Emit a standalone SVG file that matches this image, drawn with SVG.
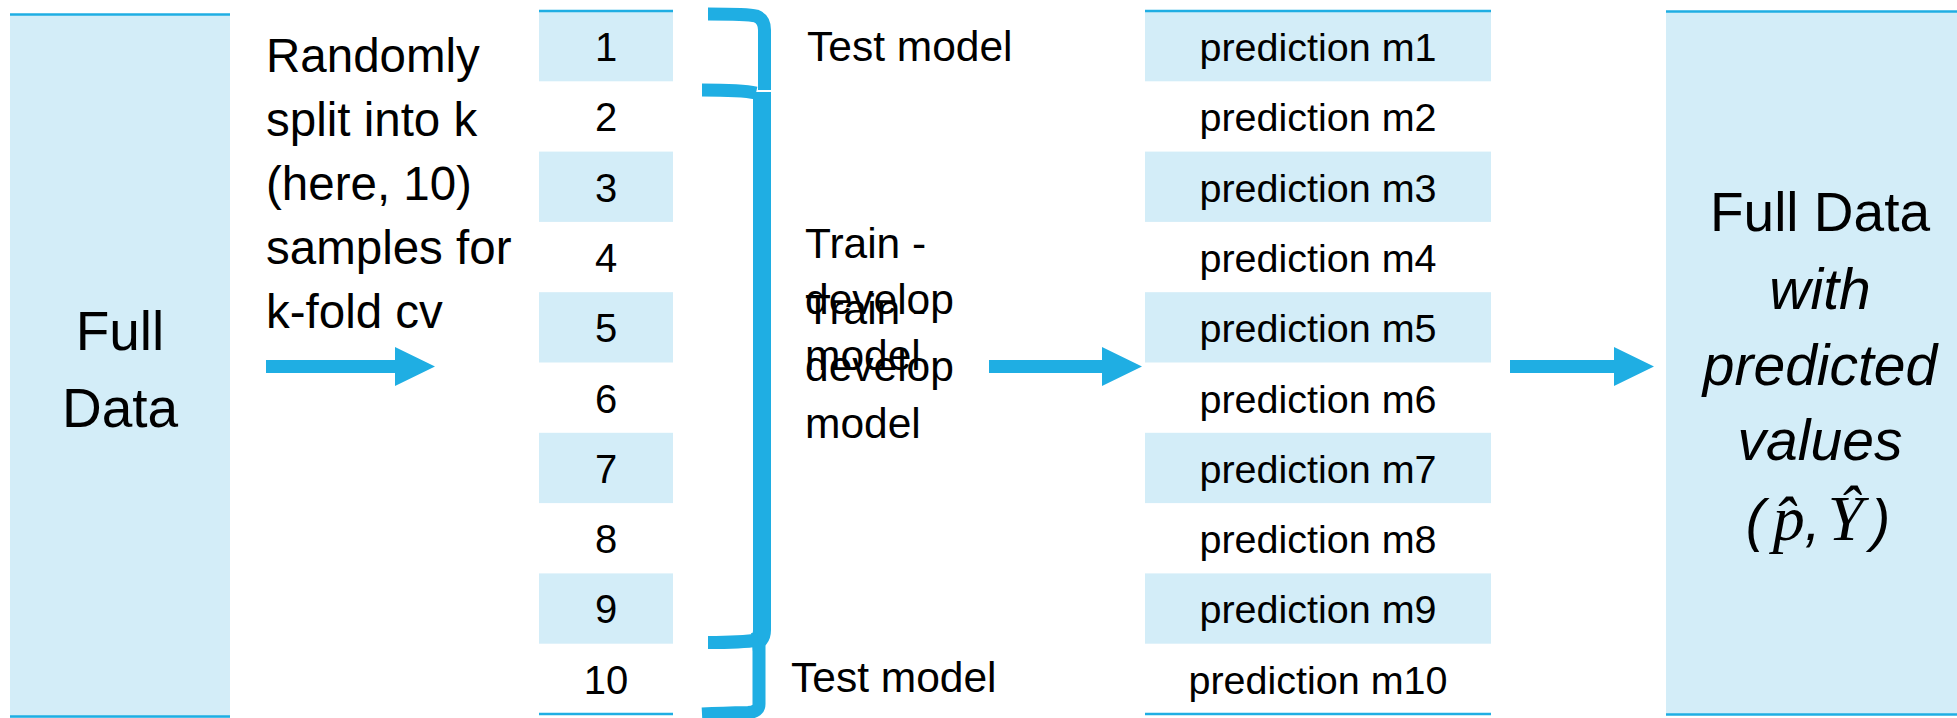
<svg xmlns="http://www.w3.org/2000/svg" width="1957" height="718" viewBox="0 0 1957 718">
  <style>
    .fill { fill: #D3EDF8; }
    .edge { stroke: #1FAEE3; stroke-width: 2.5; fill: none; }
    .blue { fill: #1FAEE3; }
    .brace { stroke: #1FAEE3; stroke-width: 13; fill: none; stroke-linecap: butt; stroke-linejoin: round; }
    text { font-family: "Liberation Sans", Arial, sans-serif; fill: #000; }
    .big { font-size: 55px; text-anchor: middle; }
    .mid { font-size: 47.5px; }
    .num { font-size: 40px; text-anchor: middle; }
    .pred { font-size: 39.5px; text-anchor: middle; }
    .lbl { font-size: 42.5px; }
    .it { font-style: italic; font-size: 57px; }
    .math { font-family: "Liberation Serif", "DejaVu Serif", serif; font-style: italic; font-size: 64px; }
  </style>

  <!-- source data block -->
  <g id="full-data">
    <rect class="fill" x="10" y="14" width="220" height="704"/>
    <line class="edge" x1="10" y1="14.5" x2="230" y2="14.5"/>
    <line class="edge" x1="10" y1="716.5" x2="230" y2="716.5"/>
    <text class="big" x="120" y="350">Full</text>
    <text class="big" x="120" y="427">Data</text>
  </g>

  <g id="split-note">
    <text class="mid" x="266" y="72">Randomly</text>
    <text class="mid" x="266" y="136">split into k</text>
    <text class="mid" x="266" y="200">(here, 10)</text>
    <text class="mid" x="266" y="264">samples for</text>
    <text class="mid" x="266" y="328">k-fold cv</text>
  </g>

  <!-- ten folds -->
  <g id="folds">
    <rect class="fill" x="539" y="11" width="134" height="70.3"/>
    <rect class="fill" x="539" y="151.6" width="134" height="70.3"/>
    <rect class="fill" x="539" y="292.2" width="134" height="70.3"/>
    <rect class="fill" x="539" y="432.8" width="134" height="70.3"/>
    <rect class="fill" x="539" y="573.4" width="134" height="70.3"/>
    <line class="edge" x1="539" y1="11" x2="673" y2="11"/>
    <line class="edge" x1="539" y1="714" x2="673" y2="714"/>
    <text class="num" x="606" y="61">1</text>
    <text class="num" x="606" y="131.3">2</text>
    <text class="num" x="606" y="201.6">3</text>
    <text class="num" x="606" y="271.9">4</text>
    <text class="num" x="606" y="342.2">5</text>
    <text class="num" x="606" y="412.5">6</text>
    <text class="num" x="606" y="482.8">7</text>
    <text class="num" x="606" y="553.1">8</text>
    <text class="num" x="606" y="623.4">9</text>
    <text class="num" x="606" y="693.7">10</text>
  </g>

  <!-- brackets grouping folds into test / train sets -->
  <g id="brackets">
    <path class="brace" d="M708,14 Q748,14 756,16 Q764.5,19 764.5,30 L764.5,90"/>
    <path class="brace" d="M702,90 Q742,90 756,93"/>
    <path class="brace" style="stroke-width:18" d="M762,92 L762,630 Q762,641 752,642"/>
    <path class="brace" d="M708,642.5 Q742,642.5 758,640"/>
    <path class="brace" d="M759,644 L759,704 Q759,712 748,712.5 Q722,713 702,714"/>
  </g>

  <g id="labels">
    <text class="lbl" x="807" y="61">Test model</text>
    <text class="lbl" x="805" y="258">Train -</text>
    <text class="lbl" x="805" y="314">develop</text>
    <text class="lbl" x="805" y="370">model</text>
    <text class="lbl" x="805" y="324">Train -</text>
    <text class="lbl" x="805" y="381">develop</text>
    <text class="lbl" x="805" y="438">model</text>
    <text class="lbl" x="791" y="692">Test model</text>
  </g>

  <!-- per-fold predictions -->
  <g id="predictions">
    <rect class="fill" x="1145" y="11" width="346" height="70.3"/>
    <rect class="fill" x="1145" y="151.6" width="346" height="70.3"/>
    <rect class="fill" x="1145" y="292.2" width="346" height="70.3"/>
    <rect class="fill" x="1145" y="432.8" width="346" height="70.3"/>
    <rect class="fill" x="1145" y="573.4" width="346" height="70.3"/>
    <line class="edge" x1="1145" y1="11" x2="1491" y2="11"/>
    <line class="edge" x1="1145" y1="714" x2="1491" y2="714"/>
    <text class="pred" x="1318" y="61">prediction m1</text>
    <text class="pred" x="1318" y="131.3">prediction m2</text>
    <text class="pred" x="1318" y="201.6">prediction m3</text>
    <text class="pred" x="1318" y="271.9">prediction m4</text>
    <text class="pred" x="1318" y="342.2">prediction m5</text>
    <text class="pred" x="1318" y="412.5">prediction m6</text>
    <text class="pred" x="1318" y="482.8">prediction m7</text>
    <text class="pred" x="1318" y="553.1">prediction m8</text>
    <text class="pred" x="1318" y="623.4">prediction m9</text>
    <text class="pred" x="1318" y="693.7">prediction m10</text>
  </g>

  <!-- result block -->
  <g id="full-data-predicted">
    <rect class="fill" x="1666" y="11" width="291" height="704"/>
    <line class="edge" x1="1666" y1="11.5" x2="1957" y2="11.5"/>
    <line class="edge" x1="1666" y1="714.5" x2="1957" y2="714.5"/>
    <text class="big" x="1820" y="231">Full Data</text>
    <text class="big it" x="1820" y="309">with</text>
    <text class="big it" x="1820" y="385">predicted</text>
    <text class="big it" x="1820" y="460">values</text>
    <text class="big it" x="1818" y="540">(<tspan class="math" dx="8">p̂</tspan>,<tspan class="math" dx="7">Ŷ</tspan><tspan dx="8">)</tspan></text>
  </g>

  <!-- flow arrows -->
  <g id="connectors">
    <path class="blue" d="M266,360 L395,360 L395,347 L435,366.5 L395,386 L395,373 L266,373 Z"/>
    <path class="blue" d="M989,360 L1102,360 L1102,347 L1142,366.5 L1102,386 L1102,373 L989,373 Z"/>
    <path class="blue" d="M1510,360 L1614,360 L1614,347 L1654,366.5 L1614,386 L1614,373 L1510,373 Z"/>
  </g>
</svg>
